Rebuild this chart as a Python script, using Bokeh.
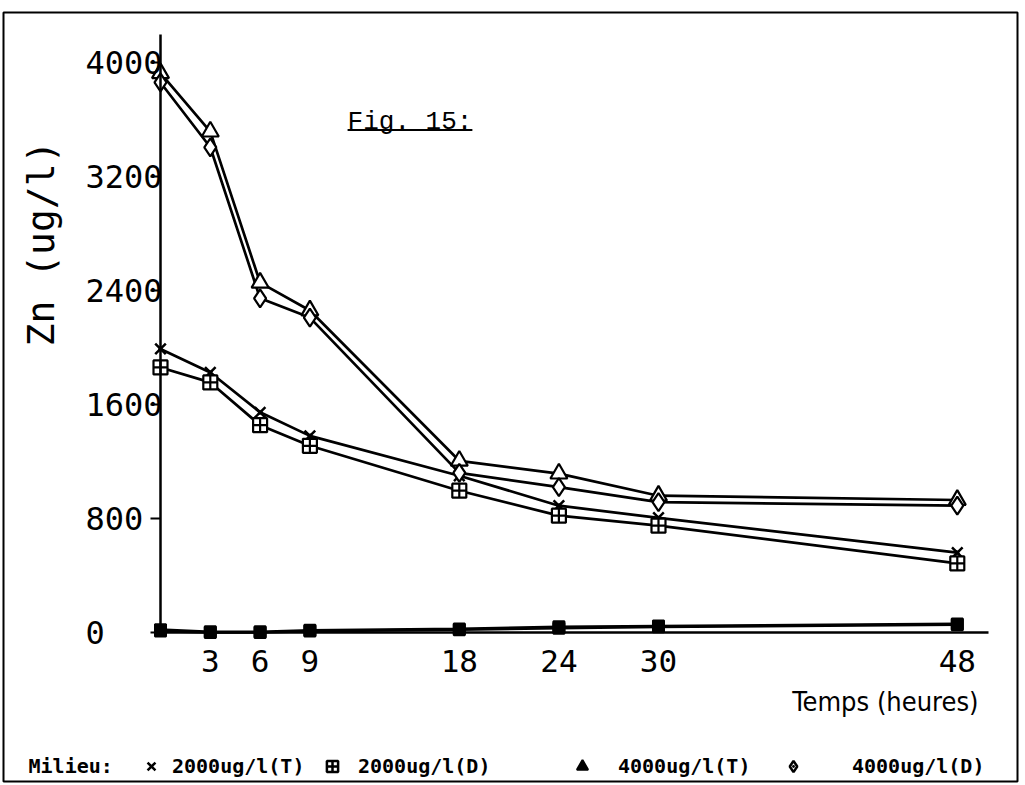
from math import pi
from bokeh.plotting import figure
from bokeh.models import (Range1d, FixedTicker, Label, Legend, LegendItem,
                          BoxAnnotation, ColumnDataSource)
from bokeh.embed import file_html
from bokeh.resources import INLINE

# ---------------- data ----------------
hours = [0, 3, 6, 9, 18, 24, 30, 48]
zn_2000_T = [1990, 1825, 1545, 1380, 1100, 890, 805, 560]
zn_2000_D = [1860, 1755, 1455, 1310, 995, 820, 750, 485]
zn_4000_T = [3925, 3515, 2455, 2260, 1205, 1115, 960, 930]
zn_4000_D = [3860, 3405, 2345, 2210, 1120, 1020, 915, 890]
zn_ctrl_T = [20, 5, 5, 15, 25, 40, 45, 60]
zn_ctrl_D = [10, 0, 0, 10, 20, 30, 40, 55]

x_ticks = [3, 6, 9, 18, 24, 30, 48]
y_ticks = [0, 800, 1600, 2400, 3200, 4000]
legend_labels = ["2000ug/l(T)", "2000ug/l(D)", "4000ug/l(T)", "4000ug/l(D)"]
title_text = "Fig. 15:"
x_title = "Temps (heures)"
y_title = "Zn (ug/l)"
legend_title = "Milieu:"

# ---------------- figure: the frame fills the page, its outline is the border ----
p = figure(width=1020, height=783, output_backend="svg", toolbar_location=None,
           x_range=Range1d(-9.458, 51.627), y_range=Range1d(-1045.6, 4350.9),
           min_border_left=3, min_border_right=3, min_border_top=12,
           min_border_bottom=2)
p.outline_line_color = "black"
p.outline_line_width = 2
p.xgrid.grid_line_color = None
p.ygrid.grid_line_color = None
p.background_fill_color = "white"
p.border_fill_color = "white"

# x axis crossing at y = 0
p.xaxis.fixed_location = 0
p.xaxis.bounds = (0, 49.9)
p.xaxis.ticker = FixedTicker(ticks=x_ticks)
p.xaxis.axis_line_width = 2.5
p.xaxis.major_tick_line_color = None
p.xaxis.minor_tick_line_color = None
p.xaxis.major_label_text_font = "DejaVu Sans Mono"
p.xaxis.major_label_text_font_size = "31px"
p.xaxis.major_label_text_color = "black"
p.xaxis.major_label_standoff = 11

# y axis crossing at x = 0 (labels left-aligned as in the plotter output)
p.yaxis.fixed_location = 0
p.yaxis.bounds = (0, 4200)
p.yaxis.ticker = FixedTicker(ticks=y_ticks)
p.yaxis.major_label_overrides = {t: str(t).ljust(4, "\u00a0") for t in y_ticks}
p.yaxis.axis_line_width = 2.5
p.yaxis.major_tick_in = 0
p.yaxis.major_tick_out = 10
p.yaxis.major_tick_line_width = 2
p.yaxis.major_tick_line_color = "black"
p.yaxis.minor_tick_line_color = None
p.yaxis.major_label_text_font = "DejaVu Sans Mono"
p.yaxis.major_label_text_font_size = "32px"
p.yaxis.major_label_text_color = "black"
p.yaxis.major_label_standoff = -12

src = ColumnDataSource(dict(h=hours, t2=zn_2000_T, d2=zn_2000_D, t4=zn_4000_T,
                            d4=zn_4000_D, ct=zn_ctrl_T, cd=zn_ctrl_D))

for col in ["t2", "d2", "t4", "d4", "ct", "cd"]:
    p.line("h", col, source=src, line_color="black", line_width=2.7)

# key glyphs for the printed legend (small, hidden under the plotted markers)
k_t2 = p.scatter("h", "t2", source=src, marker="x", size=5,
                 line_color="black", line_width=2.5)
k_d2 = p.scatter("h", "d2", source=src, marker="square_cross", size=5,
                 fill_color="white", line_color="black", line_width=2.5)
k_t4 = p.scatter("h", "t4", source=src, marker="triangle", size=5,
                 fill_color="black", line_color="black", line_width=2)
k_d4 = p.scatter("h", "d4", source=src, marker="diamond_dot", size=5,
                 fill_color="white", line_color="black", line_width=2.5)

p.scatter("h", "ct", source=src, marker="square", size=11,
          fill_color="black", line_color="black", line_width=2)
p.scatter("h", "cd", source=src, marker="square", size=11,
          fill_color="black", line_color="black", line_width=2)
p.scatter("h", "t2", source=src, marker="x", size=15,
          line_color="black", line_width=2.5)
p.scatter("h", "d2", source=src, marker="square_cross", size=14,
          fill_color="white", line_color="black", line_width=2.2)
p.scatter("h", "t4", source=src, marker="triangle", size=17,
          fill_color="white", line_color="black", line_width=2.2)
p.scatter("h", "d4", source=src, marker="diamond", size=18,
          fill_color="white", line_color="black", line_width=2.2)

# ---------------- texts ----------------
p.add_layout(Label(x=-7.2, y=2730, text=y_title, angle=pi / 2,
                   text_align="center", text_baseline="middle",
                   text_font="DejaVu Sans Mono", text_font_size="38px",
                   text_color="black"))
p.add_layout(Label(x=43.67, y=-485, text=x_title, text_align="center",
                   text_baseline="middle",
                   text_font="'DejaVu Sans Condensed', 'DejaVu Sans'",
                   text_font_size="27px", text_color="black"))

fig_x, fig_y, fig_fs = 11.27, 3582, 26
p.add_layout(Label(x=fig_x, y=fig_y, text=title_text, text_align="left",
                   text_baseline="alphabetic", text_font="Liberation Mono",
                   text_font_size=f"{fig_fs}px", text_color="black"))
ul_w = len(title_text) * 0.6 * fig_fs / 16.6
p.add_layout(BoxAnnotation(left=fig_x, right=fig_x + ul_w, bottom=fig_y - 62,
                           top=fig_y - 48, fill_color="black", fill_alpha=1,
                           line_color=None))

p.add_layout(Label(x=-7.95, y=-940, text=legend_title, text_align="left",
                   text_baseline="middle", text_font="DejaVu Sans Mono",
                   text_font_style="bold", text_font_size="20px",
                   text_color="black"))

common = dict(orientation="horizontal", border_line_color=None,
              background_fill_alpha=0, padding=0, margin=0,
              glyph_width=28, glyph_height=28, label_height=28,
              label_text_font="DejaVu Sans Mono", label_text_font_style="bold",
              label_text_font_size="20px", label_text_color="black")
keys = [k_t2, k_d2, k_t4, k_d4]
key_x = [134, 315, 565, 776]
key_gap = [7, 12, 22, 45]
for lab, rend, kx, kg in zip(legend_labels, keys, key_x, key_gap):
    p.add_layout(Legend(items=[LegendItem(label=lab, renderers=[rend])],
                        location=(kx, 1), label_standoff=kg, **common))

open("out.html", "w").write(file_html(p, INLINE))
